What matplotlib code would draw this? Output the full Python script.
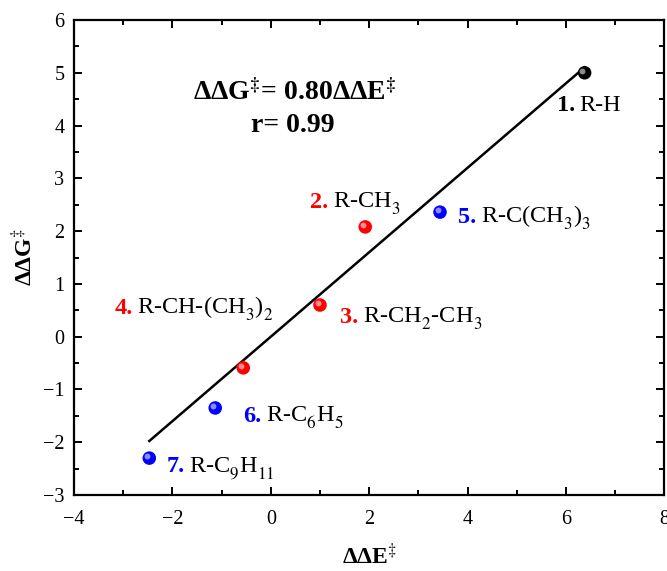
import matplotlib
matplotlib.use('Agg')
import matplotlib.pyplot as plt
import matplotlib.transforms as mtransforms
import matplotlib._mathtext as mathtext_internals
from matplotlib.ticker import MultipleLocator
import numpy as np

plt.rcParams['font.family'] = ['Liberation Serif', 'DejaVu Serif']
plt.rcParams['mathtext.fontset'] = 'stix'
# deeper subscripts, like the original figure
mathtext_internals.STIXFontConstants.sub1 = 0.65

# data
dE = [6.38, 1.92, 1.00, -0.56, 3.44, -1.13, -2.47]
dG = [5.00, 2.08, 0.60, -0.59, 2.36, -1.35, -2.30]
nums = ['1.', '2.', '3.', '4.', '5.', '6.', '7.']
names = ['R-H', r'R-CH$_3$', r'R-CH$_2$-CH$_3$', r'R-CH-(CH$_3$)$_2$',
         r'R-C(CH$_3$)$_3$', r'R-C$_6$H$_5$', r'R-C$_9$H$_{11}$']
colors = ['black', 'red', 'red', 'red', 'blue', 'blue', 'blue']
slope = 0.80
fit_x = np.array([-2.47, 6.38])

# where the labels go (left edge, baseline)
label_pos = [(5.82, 4.28), (0.80, 2.44), (1.41, 0.26), (-3.17, 0.43),
             (3.81, 2.15), (-0.56, -1.62), (-2.11, -2.56)]

fig = plt.figure(figsize=(6.67, 5.71), dpi=100)
ax = fig.add_axes([0.111, 0.133, 0.885, 0.832])

ax.plot(fit_x, slope * fit_x, color='black', lw=1.8, zorder=2)

ax.scatter(dE, dG, s=95, c=colors, zorder=3, linewidths=0)
# little highlight so the dots look like balls
hl = ax.transData + mtransforms.ScaledTranslation(-1.6 / 72, 1.6 / 72, fig.dpi_scale_trans)
ax.scatter(dE, dG, s=18, c='white', alpha=0.55, zorder=4, linewidths=0, transform=hl)

fig.canvas.draw()
renderer = fig.canvas.get_renderer()
for n, name, col, (lx, ly) in zip(nums, names, colors, label_pos):
    t = ax.text(lx, ly, n, color=col, fontsize=17.5, fontweight='bold', va='baseline', ha='left')
    w = t.get_window_extent(renderer).width * 72 / fig.dpi
    tr = mtransforms.offset_copy(ax.transData, fig=fig, x=w + 3, y=0, units='points')
    ax.text(lx, ly, name, color='black', fontsize=17.5, va='baseline', ha='left', transform=tr)

ax.text(0.49, 4.48, r'ΔΔG$^{\mathbf{‡}}$= 0.80ΔΔE$^{\mathbf{‡}}$', fontsize=20, fontweight='bold',
        ha='center', va='baseline')
ax.text(0.45, 3.88, 'r= 0.99', fontsize=20, fontweight='bold', ha='center', va='baseline')

ax.set_xlim(-4, 8)
ax.set_ylim(-3, 6)
ax.xaxis.set_major_locator(MultipleLocator(2))
ax.xaxis.set_minor_locator(MultipleLocator(1))
ax.yaxis.set_major_locator(MultipleLocator(1))
ax.yaxis.set_minor_locator(MultipleLocator(0.5))
ax.tick_params(which='both', direction='in', top=True, right=True, width=1.4, labelsize=14.5)
ax.tick_params(which='major', length=6)
ax.tick_params(which='minor', length=3.5)
ax.tick_params(axis='x', which='both', pad=11)
ax.tick_params(axis='y', which='both', pad=7)
for sp in ax.spines.values():
    sp.set_linewidth(1.6)

ax.set_xlabel(r'ΔΔE$^{‡}$', fontsize=17, fontweight='bold', labelpad=10)
ax.set_ylabel(r'ΔΔG$^{‡}$', fontsize=17, fontweight='bold', labelpad=4)

fig.savefig('out.png', dpi=100)
